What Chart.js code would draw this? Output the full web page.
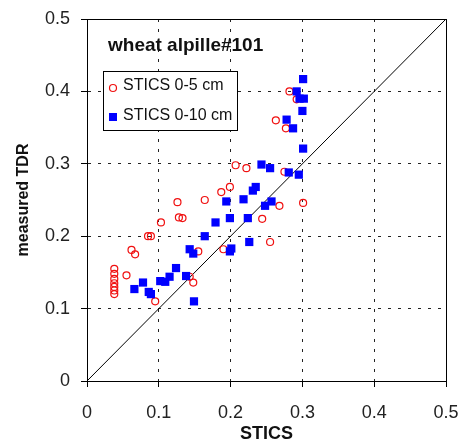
<!DOCTYPE html>
<html>
<head>
<meta charset="utf-8">
<script src="https://cdn.jsdelivr.net/npm/chart.js@4/dist/chart.umd.min.js"></script>
<style>
    html, body { margin: 0; padding: 0; background: #fff; }
</style>
</head>
<body>
<canvas id="canvaTdr" width="459" height="443"></canvas>
<script>
const titulo = "wheat alpille#101";
const etiquetasSeries = ["STICS 0-5 cm", "STICS 0-10 cm"];
const ticksEjes = [0, 0.1, 0.2, 0.3, 0.4, 0.5];

// humedad simulada (STICS) vs medida (TDR), capa 0-5 cm
const sticsSup = [0.038, 0.038, 0.038, 0.038, 0.038, 0.038, 0.038, 0.055, 0.062, 0.067,
    0.085, 0.089, 0.095, 0.103, 0.126, 0.128, 0.133, 0.143, 0.148, 0.155,
    0.164, 0.187, 0.199, 0.190, 0.207, 0.222, 0.244, 0.255, 0.268, 0.275,
    0.263, 0.277, 0.282, 0.292, 0.301];
const tdrSup = [0.155, 0.148, 0.141, 0.135, 0.130, 0.125, 0.120, 0.146, 0.181, 0.175,
    0.200, 0.200, 0.110, 0.219, 0.247, 0.226, 0.225, 0.144, 0.136, 0.179,
    0.250, 0.261, 0.268, 0.182, 0.298, 0.294, 0.224, 0.192, 0.242, 0.289,
    0.360, 0.349, 0.400, 0.389, 0.246];

// capa 0-10 cm
const sticsProf = [0.066, 0.078, 0.086, 0.089, 0.102, 0.109, 0.115, 0.124, 0.138, 0.143,
    0.148, 0.149, 0.164, 0.179, 0.194, 0.199, 0.199, 0.201, 0.218, 0.224,
    0.226, 0.231, 0.235, 0.243, 0.255, 0.248, 0.257, 0.281, 0.295, 0.278,
    0.287, 0.292, 0.296, 0.302, 0.300, 0.301, 0.301];
const tdrProf = [0.127, 0.136, 0.123, 0.120, 0.138, 0.137, 0.144, 0.156, 0.145, 0.182,
    0.176, 0.110, 0.200, 0.219, 0.248, 0.225, 0.179, 0.183, 0.251, 0.225,
    0.192, 0.263, 0.268, 0.299, 0.294, 0.242, 0.248, 0.288, 0.285, 0.361,
    0.349, 0.400, 0.390, 0.390, 0.373, 0.321, 0.417];

// recta 1:1
const diagonalX = [0, 0.5];
const diagonalY = [0, 0.5];

const fuente = '"Liberation Sans", Arial, sans-serif';

function armarPuntos(xs, ys) {
    return xs.map((x, i) => ({ x: x, y: ys[i] }));
}

// marco superior/derecho, titulo y leyenda dentro del area del grafico
const pluginMarcoLeyenda = {
    id: "marcoLeyenda",
    afterDatasetsDraw(chart) {
        const ctx = chart.ctx;
        const area = chart.chartArea;
        const dsSup = chart.data.datasets[0];
        const dsProf = chart.data.datasets[1];
        ctx.save();
        ctx.setLineDash([]);
        ctx.strokeStyle = "#000";
        ctx.lineWidth = 1;
        ctx.beginPath();
        ctx.moveTo(Math.round(area.left) + 0.5, Math.round(area.top) + 0.5);
        ctx.lineTo(Math.round(area.right) + 0.5, Math.round(area.top) + 0.5);
        ctx.lineTo(Math.round(area.right) + 0.5, Math.round(area.bottom) + 0.5);
        ctx.stroke();

        ctx.fillStyle = "#111";
        ctx.font = "bold 19px " + fuente;
        ctx.textBaseline = "alphabetic";
        ctx.fillText(titulo, area.left + 21, area.top + 32);

        const x0 = Math.round(area.left + 16), y0 = Math.round(area.top + 52);
        ctx.fillStyle = "#fff";
        ctx.fillRect(x0, y0, 134, 59);
        ctx.strokeStyle = "#000";
        ctx.strokeRect(x0 + 0.5, y0 + 0.5, 134, 59);

        // marcador circulo
        ctx.strokeStyle = dsSup.borderColor;
        ctx.lineWidth = dsSup.borderWidth;
        ctx.beginPath();
        ctx.arc(x0 + 10, y0 + 17, dsSup.pointRadius, 0, Math.PI * 2);
        ctx.stroke();
        // marcador cuadrado
        ctx.fillStyle = dsProf.backgroundColor;
        ctx.fillRect(x0 + 6, y0 + 42, 8, 8);

        ctx.fillStyle = "#111";
        ctx.font = "16px " + fuente;
        ctx.fillText(etiquetasSeries[0], x0 + 20, y0 + 19);
        ctx.fillText(etiquetasSeries[1], x0 + 20, y0 + 49);
        ctx.restore();
    }
};

function opcionesEje(tituloEje, esX) {
    return {
        type: "linear",
        min: 0,
        max: 0.5,
        afterBuildTicks: eje => {
            eje.ticks = ticksEjes.map(v => ({ value: v }));
        },
        afterFit: eje => {
            if (esX) {
                eje.height = 62;
                eje.paddingLeft = 0;
                eje.paddingRight = 0;
            } else {
                eje.width = 87;
                eje.paddingTop = 0;
                eje.paddingBottom = 0;
            }
        },
        ticks: {
            color: "#222",
            font: { family: fuente, size: 18 },
            padding: esX ? 15 : 11,
            maxRotation: 0,
            callback: v => String(+v.toFixed(1))
        },
        grid: {
            color: "#222",
            lineWidth: 1,
            tickLength: 6,
            tickColor: "#000",
            drawOnChartArea: true
        },
        border: {
            display: true,
            color: "#000",
            width: 1,
            dash: [3, 7]
        },
        title: {
            display: true,
            text: tituloEje,
            color: "#111",
            font: { family: fuente, size: esX ? 18 : 16, weight: "bold", lineHeight: 1 },
            padding: esX ? { top: 0, bottom: 0 } : { top: 16, bottom: 0 }
        }
    };
}

const graficoTdr = new Chart(document.getElementById("canvaTdr"), {
    type: "scatter",
    data: {
        datasets: [{
            label: etiquetasSeries[0],
            data: armarPuntos(sticsSup, tdrSup),
            pointStyle: "circle",
            pointRadius: 3.5,
            borderColor: "#f01010",
            borderWidth: 1.2,
            backgroundColor: "rgba(255,255,255,0)",
            order: 2
        }, {
            label: etiquetasSeries[1],
            data: armarPuntos(sticsProf, tdrProf),
            pointStyle: "rect",
            pointRadius: 5.8,
            borderWidth: 0,
            borderColor: "#0000ff",
            backgroundColor: "#0000ff",
            order: 1
        }, {
            type: "line",
            label: "1:1",
            data: armarPuntos(diagonalX, diagonalY),
            borderColor: "#000",
            borderWidth: 1,
            pointRadius: 0,
            fill: false,
            order: 3
        }]
    },
    options: {
        responsive: false,
        animation: false,
        layout: {
            padding: { left: 0, right: 13, top: 19, bottom: 0 }
        },
        scales: {
            x: opcionesEje("STICS", true),
            y: opcionesEje("measured TDR", false)
        },
        plugins: {
            legend: { display: false },
            tooltip: { enabled: false }
        }
    },
    plugins: [pluginMarcoLeyenda]
});
</script>
</body>
</html>
